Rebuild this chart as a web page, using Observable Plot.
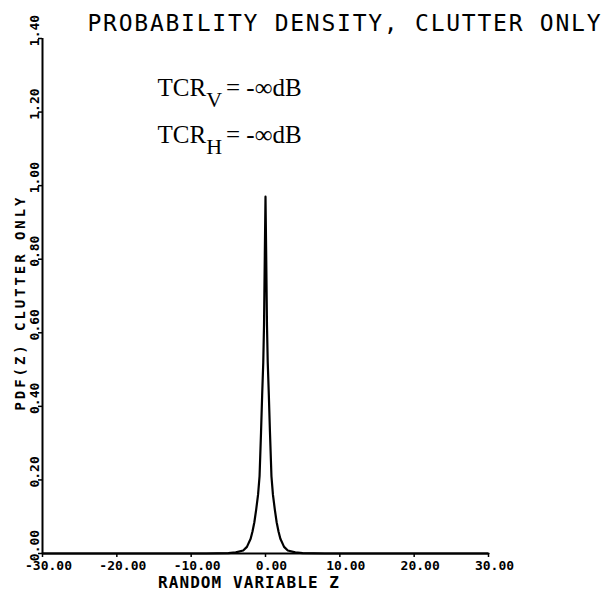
<!DOCTYPE html>
<html>
<head>
<meta charset="utf-8">
<script src="https://cdn.jsdelivr.net/npm/d3@7"></script>
<script src="https://cdn.jsdelivr.net/npm/@observablehq/plot@0.6"></script>
<style>
  html, body { margin: 0; padding: 0; background: #fff; }
  #chart svg { display: block; }
</style>
</head>
<body>
<div id="chart"></div>
<script>
// ---- data ----
const zValues   = [-30, -8, -5, -4, -3, -2.5, -2, -1.75, -1.5, -1.25, -1, -0.8, -0.6, -0.45, -0.3, -0.2, -0.1, 0,
                   0.1, 0.2, 0.3, 0.45, 0.6, 0.8, 1, 1.25, 1.5, 1.75, 2, 2.5, 3, 4, 5, 8, 30];
const pdfValues = [0, 0, 0.001, 0.003, 0.008, 0.018, 0.04, 0.06, 0.085, 0.12, 0.16, 0.21, 0.33, 0.43, 0.52, 0.62, 0.80, 0.97,
                   0.80, 0.62, 0.52, 0.43, 0.33, 0.21, 0.16, 0.12, 0.085, 0.06, 0.04, 0.018, 0.008, 0.003, 0.001, 0, 0];

const xTickValues = [-30, -20, -10, 0, 10, 20, 30];
const xTickLabels = ["-30.00", "-20.00", "-10.00", "0.00", "10.00", "20.00", "30.00"];
const yTickValues = [0, 0.2, 0.4, 0.6, 0.8, 1.0, 1.2, 1.4];
const yTickLabels = ["0.00", "0.20", "0.40", "0.60", "0.80", "1.00", "1.20", "1.40"];

const titleText  = "PROBABILITY DENSITY, CLUTTER ONLY";
const xAxisTitle = "RANDOM VARIABLE Z";
const yAxisTitle = "PDF(Z) CLUTTER ONLY";
const annotations = [
  {main: "TCR", sub: "V", rest: "= -∞dB"},
  {main: "TCR", sub: "H", rest: "= -∞dB"}
];

// ---- build table ----
const curve = zValues.map((z, i) => ({z, pdf: pdfValues[i]}));
const annLabel = a => a.main + a.sub + " " + a.rest;
const mono = "'DejaVu Sans Mono', monospace";
const serif = "'Liberation Serif', 'DejaVu Serif', serif";

const svg = Plot.plot({
  width: 606,
  height: 592,
  marginLeft: 42,
  marginRight: 118,
  marginTop: 38,
  marginBottom: 39,
  style: {background: "#fff", color: "#000", overflow: "visible"},
  x: {domain: [-30, 30], axis: null},
  y: {domain: [0, 1.4], axis: null},
  marks: [
    // axis lines
    Plot.ruleY([0], {x1: xTickValues[0], x2: xTickValues[xTickValues.length - 1], strokeWidth: 2}),
    Plot.ruleX([xTickValues[0]], {y1: yTickValues[0], y2: yTickValues[yTickValues.length - 1], strokeWidth: 2}),
    // tick marks
    Plot.axisX({ticks: xTickValues, tickSize: 4, tickFormat: () => null, label: null, strokeWidth: 1.5}),
    Plot.axisY({ticks: yTickValues, tickSize: 4, tickFormat: () => null, label: null, strokeWidth: 1.5}),
    // x tick labels
    Plot.text(xTickValues, {
      x: d => d, text: (d, i) => xTickLabels[i], frameAnchor: "bottom", textAnchor: "middle",
      dy: 16, dx: 6, fontSize: 13, fontWeight: "bold", fontFamily: mono
    }),
    // y tick labels (rotated)
    Plot.text(yTickValues, {
      y: d => d, text: (d, i) => yTickLabels[i], frameAnchor: "left", rotate: -90,
      textAnchor: "middle", lineAnchor: "middle",
      dx: -8, dy: -8, fontSize: 13, fontWeight: "bold", fontFamily: mono
    }),
    // the density curve
    Plot.line(curve, {x: "z", y: "pdf", stroke: "#000", strokeWidth: 2.2, strokeLinejoin: "round"}),
    // titles
    Plot.text([titleText], {
      frameAnchor: "top-left", dx: 45, dy: -8, textAnchor: "start", lineAnchor: "bottom",
      fontSize: 23, fontFamily: mono
    }),
    Plot.text([xAxisTitle], {
      frameAnchor: "bottom", dx: -17, dy: 34, textAnchor: "middle", lineAnchor: "bottom",
      fontSize: 16, fontWeight: "bold", fontFamily: mono
    }),
    Plot.text([yAxisTitle], {
      frameAnchor: "left", dx: -22, dy: 8, rotate: -90, textAnchor: "middle", lineAnchor: "middle",
      fontSize: 14, fontWeight: "bold", fontFamily: mono
    }),
    // annotations
    Plot.text([annotations[0]], {
      text: annLabel, frameAnchor: "top-left", dx: 115, dy: 57,
      textAnchor: "start", lineAnchor: "bottom", fontSize: 25, fontFamily: serif
    }),
    Plot.text([annotations[1]], {
      text: annLabel, frameAnchor: "top-left", dx: 115, dy: 104,
      textAnchor: "start", lineAnchor: "bottom", fontSize: 25, fontFamily: serif
    })
  ]
});

// ---- typographic touches ----
const s = d3.select(svg);
const byText = str => s.selectAll("text").filter(function() { return this.textContent === str; });
byText(titleText).attr("textLength", 513).attr("lengthAdjust", "spacing");
byText(xAxisTitle).attr("textLength", 181).attr("lengthAdjust", "spacing");
byText(yAxisTitle).attr("textLength", 213).attr("lengthAdjust", "spacing");
annotations.forEach(a => {
  byText(annLabel(a)).each(function() {
    const t = d3.select(this).text(null);
    t.append("tspan").text(a.main);
    t.append("tspan").attr("dy", 11).attr("font-size", 22).text(a.sub);
    t.append("tspan").attr("dy", -11).attr("dx", 4).text(a.rest);
  });
});

document.getElementById("chart").appendChild(svg);
</script>
</body>
</html>
